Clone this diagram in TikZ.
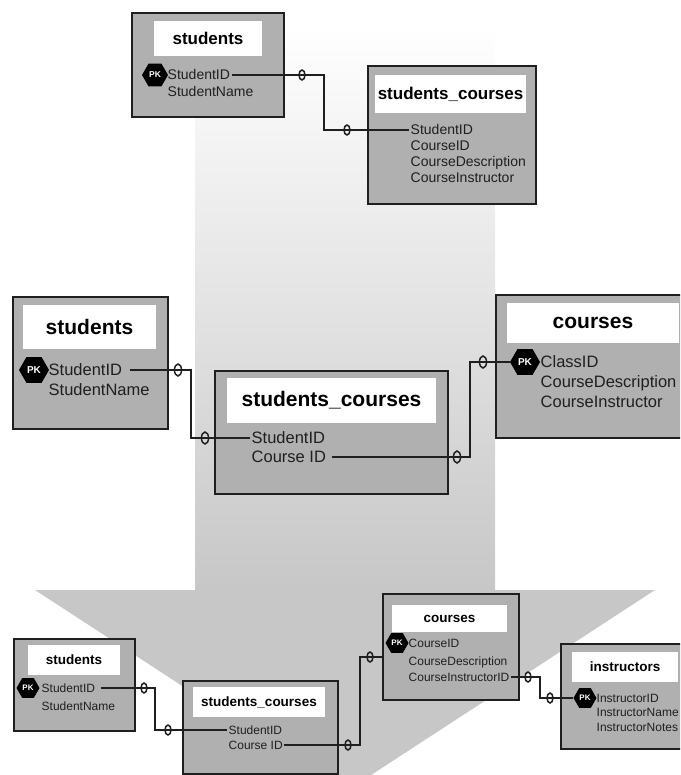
\documentclass[tikz,border=0pt]{standalone}
\usepackage{fontspec}
\setmainfont{Liberation Sans}
\usetikzlibrary{shapes.geometric}

\definecolor{tblgray}{gray}{0.69}
\definecolor{arrowgray}{gray}{0.78}
\definecolor{ink}{gray}{0.12}

\tikzset{
	tbl/.style={draw=ink, line width=2.2pt, fill=tblgray, anchor=north west, inner sep=0pt},
	ttl/.style={fill=white, inner sep=0pt, text=black},
	fld/.style={anchor=west, inner sep=1.5pt, text=ink},
	pk/.style={regular polygon, regular polygon sides=6, fill=black, text=white, inner sep=0pt},
	zero/.style={ellipse, draw=ink, line width=1.5pt, inner sep=0pt, minimum width=6pt, minimum height=10pt},
	bigzero/.style={zero, minimum width=7pt, minimum height=12pt},
	rel/.style={draw=ink, line width=1.8pt},
	hdA/.style={font=\bfseries\fontsize{17}{17}\selectfont},
	hdB/.style={font=\bfseries\fontsize{21}{21}\selectfont},
	hdC/.style={font=\bfseries\fontsize{13.5}{13.5}\selectfont},
	fA/.style={font=\fontsize{14}{14}\selectfont, text height=10pt, text depth=0pt},
	fB/.style={font=\fontsize{16.5}{16.5}\selectfont, text height=11.9pt, text depth=0pt},
	fC/.style={font=\fontsize{12}{12}\selectfont, text height=8.6pt, text depth=0pt},
	pkA/.style={pk, minimum size=26pt, font=\bfseries\fontsize{8.5}{8.5}\selectfont},
	pkB/.style={pk, minimum size=30pt, font=\bfseries\fontsize{10}{10}\selectfont},
	pkC/.style={pk, minimum size=23pt, font=\bfseries\fontsize{8}{8}\selectfont}
}

\begin{document}
\begin{tikzpicture}[x=1pt, y=-1pt]
	\useasboundingbox (0,0) rectangle (680,775);
	\clip (0,0) rectangle (680,775);
	\shade[top color=white, bottom color=arrowgray] (195,25) rectangle (495,591);
	\fill[arrowgray] (35,590) -- (655,590) -- (345,792) -- cycle;

	\node[tbl, minimum width=152pt, minimum height=104pt] (stuA) at (131,12) {};
		\node[ttl, hdA, minimum width=108pt, minimum height=35pt] (stuAt) at (208,38.5) {students};
		\node[pkA] (stuApk) at (155,75) {PK};
		\node[fld, fA] (stuAid) at (166,75) {StudentID};
		\node[fld, fA] (stuAname) at (166,92) {StudentName};
	\node[tbl, minimum width=168pt, minimum height=138pt] (scA) at (367,65) {};
		\node[ttl, hdA, minimum width=151pt, minimum height=38pt] (scAt) at (450.5,94) {students\_courses};
		\node[fld, fA] (scAid) at (409,130) {StudentID};
		\node[fld, fA] (scAcid) at (409,146) {CourseID};
		\node[fld, fA] (scAdesc) at (409,162) {CourseDescription};
		\node[fld, fA] (scAinst) at (409,178) {CourseInstructor};

	\node[tbl, minimum width=155pt, minimum height=132pt] (stuB) at (12,296) {};
		\node[ttl, hdB, minimum width=133pt, minimum height=44pt] (stuBt) at (89.5,327) {students};
		\node[pkB] (stuBpk) at (34,370) {PK};
		\node[fld, fB] (stuBid) at (47,370) {StudentID};
		\node[fld, fB] (stuBname) at (47,390) {StudentName};
	\node[tbl, minimum width=233pt, minimum height=123pt] (scB) at (214,370) {};
		\node[ttl, hdB, minimum width=209pt, minimum height=45pt] (scBt) at (331.5,400.5) {students\_courses};
		\node[fld, fB] (scBid) at (250,438) {StudentID};
		\node[fld, fB] (scBcid) at (250,457) {Course ID};
	\node[tbl, minimum width=200pt, minimum height=143pt] (crB) at (495,294) {};
		\node[ttl, hdB, minimum width=172pt, minimum height=40pt] (crBt) at (593,323) {courses};
		\node[pkB] (crBpk) at (525,362) {PK};
		\node[fld, fB] (crBid) at (539,362) {ClassID};
		\node[fld, fB] (crBdesc) at (539,382) {CourseDescription};
		\node[fld, fB] (crBinst) at (539,402) {CourseInstructor};

	\node[tbl, minimum width=121pt, minimum height=92pt] (stuC) at (13,638) {};
		\node[ttl, hdC, minimum width=92pt, minimum height=30pt] (stuCt) at (74,660) {students};
		\node[pkC] (stuCpk) at (28,688) {PK};
		\node[fld, fC] (stuCid) at (40,688) {StudentID};
		\node[fld, fC] (stuCname) at (40,706) {StudentName};
	\node[tbl, minimum width=155pt, minimum height=93pt] (scC) at (182,680) {};
		\node[ttl, hdC, minimum width=132pt, minimum height=30pt] (scCt) at (259,702) {students\_courses};
		\node[fld, fC] (scCid) at (227,730) {StudentID};
		\node[fld, fC] (scCcid) at (227,745) {Course ID};
	\node[tbl, minimum width=136pt, minimum height=106pt] (crC) at (382,593) {};
		\node[ttl, hdC, minimum width=115pt, minimum height=27pt] (crCt) at (449.5,618.5) {courses};
		\node[pkC] (crCpk) at (397,643) {PK};
		\node[fld, fC] (crCid) at (407,643) {CourseID};
		\node[fld, fC] (crCdesc) at (407,661) {CourseDescription};
		\node[fld, fC] (crCiid) at (407,677) {CourseInstructorID};
	\node[tbl, minimum width=135pt, minimum height=105pt] (insC) at (560,643) {};
		\node[ttl, hdC, minimum width=106pt, minimum height=30pt] (insCt) at (625,667) {instructors};
		\node[pkC] (insCpk) at (585,698) {PK};
		\node[fld, fC] (insCid) at (595,698) {InstructorID};
		\node[fld, fC] (insCname) at (595,712) {InstructorName};
		\node[fld, fC] (insCnotes) at (595,727) {InstructorNotes};

	\coordinate (kA) at (324,100);
	\coordinate (kB) at (191,400);
	\coordinate (kC) at (470,400);
	\coordinate (kD) at (155,710);
	\coordinate (kE) at (360,657);
	\coordinate (kF) at (540,690);

	\draw[rel] (stuAid.east) -| (kA) |- (scAid.west);
	\draw[rel] ([xshift=6pt]stuBid.east) -| (kB) |- (scBid.west);
	\draw[rel] ([xshift=4pt]scBcid.east) -| (kC) |- (crBpk.west);
	\draw[rel] ([xshift=4pt]stuCid.east) -| (kD) |- (scCid.west);
	\draw[rel] (scCcid.east) -| (kE) -- (kE -| crC.west);
	\draw[rel] (crCiid.east) -| (kF) |- (insCpk.west);

	\node[zero] (zA1) at (302,0 |- stuAid.east) {};
	\node[zero] (zA2) at (347,0 |- scAid.west) {};
	\node[bigzero] (zB1) at (178,0 |- stuBid.east) {};
	\node[bigzero] (zB2) at (205,0 |- scBid.west) {};
	\node[bigzero] (zB3) at (457,0 |- scBcid.east) {};
	\node[bigzero] (zB4) at (483,0 |- crBpk.west) {};
	\node[zero] (zC1) at (144,0 |- stuCid.east) {};
	\node[zero] (zC2) at (168,0 |- scCid.west) {};
	\node[zero] (zC3) at (348,0 |- scCcid.east) {};
	\node[zero] (zC4) at (370,0 |- kE) {};
	\node[zero] (zC5) at (528,0 |- crCiid.east) {};
	\node[zero] (zC6) at (550,0 |- insCpk.west) {};
\end{tikzpicture}
\end{document}
